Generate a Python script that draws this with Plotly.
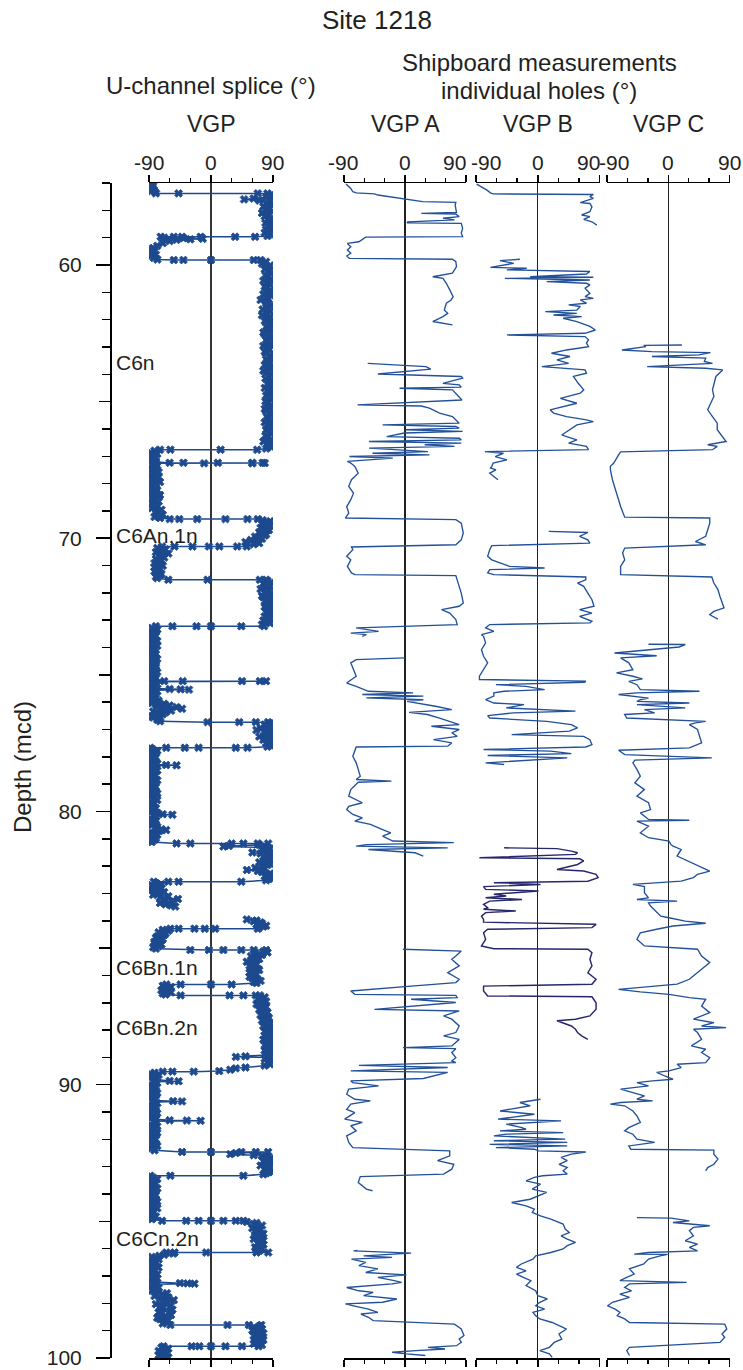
import plotly.graph_objects as go

# ---------------- data (depth in mcd, VGP latitude in degrees) ----------------
UCH = [
 (57.02,-86),(57.06,-89),(57.10,-84),(57.14,-88),(57.18,-85),(57.22,-89),(57.26,-83),(57.30,-87),(57.34,-81),
 (57.38,-80),(57.38,-47),(57.38,68),(57.38,82),
 (57.42,88),(57.47,84),(57.52,80),(57.57,62),(57.60,48),(57.64,70),(57.68,86),(57.74,80),(57.80,88),(57.86,76),
 (57.92,85),(57.98,80),(58.04,89),(58.10,74),(58.16,84),(58.22,78),(58.28,88),(58.34,82),(58.40,86),(58.46,79),
 (58.52,88),(58.58,83),(58.64,87),(58.70,80),(58.76,85),(58.82,78),(58.88,86),(58.94,82),
 (58.97,64),(58.97,35),(58.97,-15),(58.97,-42),(58.97,-54),(58.97,-73),
 (59.00,-68),(59.02,-40),(59.04,-12),(59.06,-30),(59.08,-50),(59.12,-60),(59.20,-70),(59.30,-78),(59.38,-84),
 (59.44,-88),(59.50,-82),(59.56,-86),(59.62,-80),(59.68,-88),(59.74,-83),(59.80,-78),
 (59.82,-54),(59.82,-40),(59.82,0),(59.82,62),(59.82,72),
 (59.88,80),(59.95,74),(60.02,86),(60.09,82),(60.16,78),(60.23,84),(60.30,88),(60.37,79),(60.44,82),(60.51,88),
 (60.58,76),(60.65,83),(60.72,86),(60.79,78),(60.86,80),(60.93,87),(61.00,84),(61.07,76),(61.14,88),(61.21,82),
 (61.28,72),(61.35,80),(61.42,84),(61.49,88),(61.56,80),(61.63,75),(61.70,86),(61.77,81),(61.84,74),(61.91,86),
 (61.98,82),(62.05,78),(62.12,88),(62.19,84),(62.26,80),(62.33,86),(62.40,84),(62.47,76),(62.54,78),(62.61,88),
 (62.68,86),(62.75,80),(62.82,82),(62.89,87),(62.96,76),(63.03,82),(63.10,85),(63.17,78),(63.24,80),(63.31,86),
 (63.38,88),(63.45,80),(63.52,82),(63.59,86),(63.66,78),(63.73,84),(63.80,86),(63.87,76),(63.94,80),(64.01,88),
 (64.08,84),(64.15,79),(64.22,88),(64.29,84),(64.36,82),(64.43,87),(64.50,78),(64.57,83),(64.64,85),(64.71,88),
 (64.78,80),(64.85,84),(64.92,87),(64.99,79),(65.06,82),(65.13,88),(65.20,84),(65.27,78),(65.34,80),(65.41,86),
 (65.48,88),(65.55,81),(65.62,83),(65.69,87),(65.76,78),(65.83,82),(65.90,85),(65.97,88),(66.04,80),(66.11,84),
 (66.18,88),(66.25,79),(66.32,82),(66.39,87),(66.46,76),(66.53,82),(66.60,85),(66.67,88),(66.72,80),
 (66.76,67),(66.76,14),(66.76,-59),(66.76,-74),
 (66.80,-82),(66.86,-88),(66.92,-78),(66.98,-86),(67.04,-80),(67.10,-89),(67.16,-84),(67.21,-80),
 (67.24,-60),(67.24,-40),(67.24,10),(67.24,60),(67.24,75),(67.25,78),(67.26,60),(67.26,-10),(67.26,-80),
 (67.30,-86),(67.35,-78),(67.40,-80),(67.46,-86),(67.52,-88),(67.58,-76),(67.64,-82),(67.70,-88),(67.76,-76),
 (67.82,-86),(67.88,-84),(67.94,-74),(68.00,-80),(68.06,-86),(68.12,-88),(68.18,-80),(68.24,-78),(68.30,-88),
 (68.36,-84),(68.42,-74),(68.48,-76),(68.54,-86),(68.60,-82),(68.66,-76),(68.72,-86),(68.78,-82),(68.84,-78),
 (68.90,-86),(68.96,-72),(69.02,-80),(69.08,-80),(69.14,-70),(69.18,-76),(69.22,-82),(69.26,-74),
 (69.30,-60),(69.30,-46),(69.30,-20),(69.30,21),(69.30,53),(69.30,68),
 (69.34,75),(69.38,86),(69.42,82),(69.46,74),(69.50,78),(69.54,86),(69.58,84),(69.62,72),(69.66,76),(69.70,84),
 (69.74,80),(69.78,70),(69.82,72),(69.86,80),(69.90,78),(69.94,64),(69.98,68),(70.02,74),(70.06,58),(70.10,66),
 (70.14,50),(70.18,70),(70.22,62),
 (70.30,52),(70.30,38),(70.30,12),(70.30,-3),(70.30,-27),(70.30,-53),(70.30,-71),
 (70.36,-78),(70.41,-66),(70.46,-70),(70.51,-80),(70.56,-62),(70.61,-72),(70.66,-76),(70.71,-68),(70.76,-80),
 (70.81,-72),(70.86,-74),(70.91,-82),(70.96,-78),(71.01,-70),(71.06,-82),(71.11,-74),(71.16,-76),(71.21,-82),
 (71.26,-80),(71.31,-72),(71.36,-74),(71.41,-80),(71.46,-78),
 (71.52,-62),(71.52,-5),(71.52,71),(71.52,80),
 (71.56,82),(71.61,88),(71.66,76),(71.71,82),(71.76,86),(71.81,78),(71.86,72),(71.91,84),(71.96,80),(72.01,88),
 (72.06,84),(72.11,74),(72.16,76),(72.21,86),(72.26,88),(72.31,78),(72.36,82),(72.41,88),(72.46,86),(72.51,78),
 (72.56,80),(72.61,86),(72.66,88),(72.71,80),(72.76,84),(72.81,88),(72.86,78),(72.91,84),(72.96,86),(73.01,76),
 (73.06,80),(73.11,86),(73.16,74),
 (73.22,77),(73.22,44),(73.22,0),(73.22,-21),(73.22,-56),(73.22,-80),
 (73.28,-86),(73.34,-78),(73.40,-80),(73.46,-88),(73.52,-88),(73.58,-80),(73.64,-84),(73.70,-88),(73.76,-78),
 (73.82,-84),(73.88,-86),(73.94,-78),(74.00,-82),(74.06,-88),(74.12,-88),(74.18,-82),(74.24,-80),(74.30,-88),
 (74.36,-85),(74.42,-78),(74.48,-82),(74.54,-88),(74.60,-88),(74.66,-80),(74.72,-80),(74.78,-88),(74.84,-86),
 (74.90,-78),(74.96,-82),(75.02,-88),(75.08,-88),(75.13,-80),(75.18,-84),
 (75.23,-68),(75.23,-41),(75.23,45),(75.23,71),(75.23,80),(75.25,-80),
 (75.30,-86),(75.35,-78),(75.40,-82),(75.45,-88),(75.50,-84),(75.52,-60),(75.53,-44),(75.54,-32),(75.56,-84),
 (75.61,-78),(75.66,-88),(75.72,-80),(75.78,-82),(75.84,-88),(75.90,-86),(75.95,-76),(76.00,-78),(76.03,-86),
 (76.06,-68),(76.09,-80),(76.12,-60),(76.15,-78),(76.18,-50),(76.21,-72),(76.24,-42),(76.28,-72),(76.31,-58),
 (76.34,-84),(76.37,-66),(76.40,-80),(76.44,-70),(76.48,-76),(76.52,-86),(76.56,-84),(76.60,-74),(76.64,-78),
 (76.70,-74),
 (76.73,-5),(76.73,41),(76.73,65),(76.73,83),
 (76.78,86),(76.82,78),(76.86,80),(76.90,88),(76.94,72),(76.98,80),(77.02,66),(77.06,84),(77.10,78),(77.14,86),
 (77.18,88),(77.22,78),(77.26,70),(77.30,86),(77.34,84),(77.38,76),(77.42,88),(77.46,84),(77.50,80),(77.54,88),
 (77.58,86),(77.63,82),
 (77.67,53),(77.67,36),(77.67,-18),(77.67,-38),(77.67,-65),(77.67,-88),
 (77.72,-85),(77.78,-78),(77.84,-80),(77.90,-86),(77.96,-88),(78.02,-80),(78.08,-82),(78.14,-88),(78.20,-86),
 (78.24,-78),(78.28,-80),(78.30,-65),(78.31,-50),(78.33,-82),(78.38,-86),(78.44,-88),(78.50,-78),(78.56,-84),
 (78.62,-88),(78.68,-80),(78.74,-84),(78.80,-86),(78.86,-78),(78.92,-82),(78.98,-88),(79.04,-88),(79.10,-80),
 (79.16,-84),(79.22,-88),(79.28,-80),(79.34,-78),(79.40,-86),(79.46,-88),(79.52,-82),(79.58,-78),(79.64,-88),
 (79.70,-82),(79.76,-84),(79.82,-88),(79.88,-80),(79.94,-84),(80.00,-86),(80.05,-78),
 (80.10,-70),(80.12,-56),(80.14,-84),(80.20,-80),(80.26,-88),(80.32,-80),(80.38,-82),(80.44,-88),(80.50,-86),
 (80.56,-78),(80.62,-80),(80.65,-72),(80.68,-65),(80.72,-75),(80.76,-88),(80.80,-84),(80.86,-78),(80.92,-88),
 (80.98,-80),(81.04,-82),(81.08,-88),(81.12,-86),
 (81.17,-50),(81.17,-30),(81.17,30),(81.17,47),(81.17,68),(81.17,83),
 (81.22,70),(81.26,26),(81.28,18),(81.32,80),(81.36,86),(81.40,74),(81.45,82),(81.50,60),(81.54,72),(81.58,84),
 (81.62,88),(81.66,76),(81.71,82),(81.76,86),(81.81,78),(81.86,70),(81.91,86),(81.96,82),(82.01,74),(82.06,64),
 (82.10,78),(82.14,52),(82.18,68),(82.22,74),(82.27,86),(82.32,84),(82.37,78),(82.42,88),(82.47,84),(82.52,80),
 (82.57,44),(82.57,-47),(82.57,-62),(82.57,-83),
 (82.62,-80),(82.66,-72),(82.70,-86),(82.75,-80),(82.80,-72),(82.85,-88),(82.90,-84),(82.95,-68),(83.00,-76),
 (83.05,-84),(83.10,-62),(83.15,-74),(83.20,-48),(83.25,-66),(83.30,-56),(83.35,-74),(83.40,-66),(83.44,-58),
 (83.48,-52),
 None,
 (83.95,52),(83.99,66),(84.02,62),(84.06,72),(84.10,74),(84.14,66),(84.18,80),(84.21,76),(84.24,70),
 (84.29,68),(84.29,6),(84.29,-9),(84.29,-24),(84.29,-47),(84.29,-59),
 (84.33,-70),(84.37,-62),(84.42,-76),(84.47,-66),(84.52,-68),(84.57,-78),(84.62,-80),(84.67,-70),(84.72,-74),
 (84.77,-82),(84.82,-82),(84.87,-72),(84.92,-76),(84.97,-84),(85.02,-80),
 (85.07,-30),(85.07,-3),(85.07,18),(85.07,44),(85.07,62),(85.07,80),
 (85.12,76),(85.16,82),(85.20,64),(85.25,74),(85.30,58),(85.35,66),(85.40,70),(85.45,60),(85.50,52),(85.55,62),
 (85.60,66),(85.65,56),(85.70,58),(85.75,68),(85.80,70),(85.85,60),(85.90,56),(85.95,66),(86.00,64),(86.05,56),
 (86.10,60),(86.15,68),(86.20,72),(86.24,62),(86.28,66),
 (86.33,30),(86.33,0),(86.33,-44),(86.33,-65),
 (86.38,-70),(86.42,-58),(86.46,-62),(86.50,-70),(86.54,-72),(86.58,-64),(86.62,-58),(86.66,-70),(86.70,-66),
 (86.73,-44),(86.73,27),(86.73,47),(86.73,65),(86.73,71),
 (86.80,78),(86.85,68),(86.90,72),(86.95,80),(87.00,76),(87.05,66),(87.10,70),(87.15,80),(87.20,78),(87.25,70),
 (87.30,74),(87.35,82),(87.40,80),(87.45,72),(87.50,76),(87.55,84),(87.60,82),(87.65,74),(87.70,78),(87.75,86),
 (87.80,84),(87.85,76),(87.90,80),(87.95,88),(88.00,86),(88.05,78),(88.10,82),(88.15,88),(88.20,78),(88.25,86),
 (88.30,84),(88.35,76),(88.40,80),(88.45,88),(88.50,86),(88.55,78),(88.60,82),(88.65,88),(88.70,86),(88.75,78),
 (88.80,80),(88.85,88),(88.90,84),(88.96,50),(88.98,36),(89.00,84),(89.05,78),(89.10,88),(89.15,84),(89.20,82),
 (89.25,86),(89.30,78),
 (89.37,50),(89.40,36),(89.45,28),(89.50,12),(89.52,-25),(89.52,-56),(89.52,-70),
 (89.56,-82),(89.60,-88),(89.64,-76),(89.68,-84),(89.72,-88),(89.76,-78),(89.80,-82),(89.86,-60),(89.87,-47),
 (89.89,-84),(89.94,-78),(90.00,-88),(90.06,-80),(90.12,-82),(90.18,-88),(90.24,-86),(90.30,-78),(90.36,-80),
 (90.42,-86),(90.48,-88),(90.54,-80),(90.58,-84),(90.60,-55),(90.61,-42),(90.63,-84),(90.68,-78),(90.74,-88),
 (90.80,-80),(90.86,-82),(90.92,-88),(90.98,-86),(91.04,-78),(91.10,-80),(91.16,-86),(91.22,-88),(91.26,-80),
 (91.30,-60),(91.31,-35),(91.32,-15),(91.34,-84),(91.40,-80),(91.46,-88),(91.52,-78),(91.58,-82),(91.64,-88),
 (91.70,-86),(91.76,-78),(91.82,-80),(91.88,-86),(91.94,-88),(92.00,-80),(92.06,-84),(92.12,-88),(92.18,-80),
 (92.24,-78),(92.30,-86),(92.35,-88),(92.40,-82),
 (92.46,-42),(92.46,0),(92.46,44),(92.46,65),(92.46,83),
 (92.50,36),(92.54,28),(92.58,62),(92.61,74),(92.64,80),(92.68,88),(92.72,86),(92.76,80),(92.80,76),(92.84,88),
 (92.88,84),(92.92,78),(92.96,72),(93.00,84),(93.04,86),(93.08,78),(93.12,80),(93.16,88),(93.20,84),(93.24,80),
 (93.28,76),
 (93.33,47),(93.33,-59),(93.33,-88),
 (93.40,-84),(93.45,-78),(93.50,-88),(93.56,-84),(93.62,-80),(93.68,-88),(93.74,-86),(93.80,-78),(93.86,-82),
 (93.92,-88),(93.98,-88),(94.04,-80),(94.10,-84),(94.16,-88),(94.22,-80),(94.28,-78),(94.34,-86),(94.40,-88),
 (94.46,-82),(94.52,-78),(94.58,-88),(94.64,-84),(94.70,-84),(94.76,-88),(94.82,-80),(94.87,-84),(94.92,-86),
 (94.98,-71),(94.98,-36),(94.98,-18),(94.98,0),(94.98,18),(94.98,36),(94.98,47),
 (95.02,52),(95.06,66),(95.10,62),(95.15,74),(95.20,68),(95.25,60),(95.30,72),(95.35,64),(95.40,66),(95.45,76),
 (95.50,74),(95.55,64),(95.60,70),(95.65,62),(95.70,76),(95.75,70),(95.80,68),(95.85,76),(95.90,72),(95.95,64),
 (96.00,74),(96.04,66),(96.08,70),
 (96.14,83),(96.14,66),(96.14,-7),(96.14,-53),(96.14,-65),
 (96.18,-55),(96.22,-68),(96.26,-75),(96.30,-86),(96.34,-82),(96.39,-76),(96.44,-88),(96.49,-80),(96.54,-84),
 (96.59,-88),(96.64,-80),(96.69,-76),(96.74,-88),(96.79,-82),(96.84,-84),(96.89,-88),(96.94,-78),(96.99,-82),
 (97.04,-86),(97.09,-78),(97.14,-82),(97.18,-88),(97.22,-80),(97.26,-45),(97.27,-34),(97.28,-24),(97.30,-84),
 (97.34,-80),(97.38,-88),(97.43,-76),(97.48,-82),(97.53,-86),(97.58,-76),(97.63,-64),(97.68,-70),(97.73,-82),
 (97.78,-62),(97.83,-74),(97.88,-54),(97.93,-70),(97.98,-64),(98.03,-80),(98.08,-58),(98.13,-74),(98.18,-70),
 (98.23,-56),(98.28,-60),(98.33,-76),(98.38,-72),(98.43,-58),(98.48,-66),(98.53,-78),(98.58,-74),(98.63,-62),
 (98.68,-68),(98.74,-70),
 (98.79,-59),(98.79,24),(98.79,55),(98.79,73),
 (98.84,70),(98.89,62),(98.94,74),(98.99,60),(99.04,66),(99.09,76),(99.14,72),(99.19,62),(99.24,68),(99.29,74),
 (99.34,76),(99.39,64),(99.44,70),(99.48,62),(99.52,74),
 (99.57,69),(99.57,45),(99.57,21),(99.57,0),(99.57,-17),(99.57,-28),(99.57,-69),
 (99.62,-72),(99.66,-62),(99.70,-66),(99.74,-76),(99.78,-74),(99.82,-64),(99.86,-68),(99.90,-76),(99.94,-72),
 (99.97,-62),(100.00,-65),
]

VGP_A = [
 (57.04,-87),(57.20,-80),(57.32,-77),(57.36,-72),(57.40,-45),(57.44,-40),(57.68,26),(57.71,75),(57.81,74),
 (58.08,76),(58.11,24),(58.14,75),(58.23,80),(58.29,56),(58.35,73),(58.42,4),(58.46,3),(58.48,83),(58.66,85),
 (58.84,83),(58.96,85),(58.98,-58),(59.15,-68),(59.21,-85),(59.33,-80),(59.45,-85),(59.57,-80),(59.67,-86),
 (59.76,-82),(59.79,70),(59.88,75),(60.06,76),(60.30,70),(60.43,41),(60.49,56),(60.67,61),(60.91,66),(61.16,71),
 (61.28,68),(61.40,61),(61.65,58),(61.77,63),(61.89,56),(62.07,41),(62.19,70),
 None,
 (63.60,-55),(63.72,31),(63.81,38),(63.99,-40),(64.08,83),(64.14,85),(64.33,56),(64.39,80),(64.47,83),(64.51,-8),
 (64.57,70),(64.69,75),(64.94,84),(65.12,-70),(65.16,24),(65.24,36),(65.42,51),(65.55,70),(65.67,75),(65.79,80),
 (65.85,-33),(65.91,75),(65.97,80),(66.03,1),(66.09,85),(66.15,-1),(66.28,-27),(66.34,80),(66.40,83),(66.46,-53),
 (66.52,83),(66.58,29),(66.64,73),(66.70,-53),(66.83,34),(66.89,-48),(66.95,36),(67.01,-82),(67.07,-18),
 (67.13,-48),(67.19,-85),(67.25,-80),(67.37,-74),(67.62,-69),(67.86,-79),(68.10,-83),(68.35,-76),(68.59,-80),
 (68.84,-86),(69.08,-83),(69.26,-88),(69.32,75),(69.45,83),(69.81,86),(70.06,83),(70.24,75),(70.32,-79),
 (70.42,-77),(70.66,-86),(70.79,-80),(71.03,-85),(71.27,-79),(71.33,-74),(71.37,75),(71.52,77),(71.76,80),
 (72.01,83),(72.37,86),(72.49,80),(72.61,54),(72.74,66),(72.98,75),(73.16,77),(73.28,-72),(73.41,-39),
 (73.47,-80),(73.53,-57),(73.59,-63),
 None,
 (74.38,0),(74.44,-72),(74.56,-80),(74.81,-76),(75.05,-72),(75.24,-83),(75.30,-86),(75.42,-72),(75.60,-54),
 (75.66,12),(75.72,-63),(75.78,27),(75.84,-57),(75.91,27),(75.97,3),(76.15,45),(76.27,69),(76.37,6),(76.45,33),
 (76.58,51),(76.70,66),(76.82,80),(76.88,39),(77.00,80),(77.12,69),(77.25,77),(77.37,42),(77.49,69),(77.61,63),
 (77.64,-72),(77.98,-77),(78.22,-72),(78.46,-69),(78.71,-66),(78.83,-72),(78.89,-20),(78.93,-69),(79.20,-80),
 (79.44,-83),(79.68,-63),(79.81,-83),(79.93,-86),(80.11,-77),(80.23,-63),(80.35,-74),(80.47,-51),(80.66,-33),
 (80.78,-21),(80.90,-33),(81.08,-18),(81.14,72),(81.21,-57),(81.27,-72),(81.33,63),(81.39,-54),(81.51,15),
 (81.63,27),
 None,
 (85.04,-3),(85.11,83),(85.29,75),(85.41,69),(85.65,80),(85.90,63),(86.14,80),(86.26,75),(86.39,9),(86.57,-80),
 (86.69,-74),(86.73,75),(86.81,77),(86.87,9),(86.99,75),(87.24,-45),(87.30,80),(87.48,57),(87.60,69),(87.85,80),
 (88.09,75),(88.21,57),(88.34,80),(88.58,69),(88.64,-3),(88.68,75),(88.82,69),(89.01,75),(89.13,69),(89.19,75),
 (89.29,-68),(89.37,63),(89.49,-80),(89.55,63),(89.77,27),(89.86,-80),(89.92,-77),(90.04,-39),(90.16,-83),
 (90.35,-86),(90.53,-74),(90.59,-51),(90.71,-80),(90.90,-86),(91.02,-74),(91.26,-89),(91.38,-63),(91.50,-80),
 (91.69,-72),(91.87,-86),(92.11,-83),(92.30,-77),(92.42,66),(92.60,66),(92.78,48),(92.91,72),(93.09,69),
 (93.27,57),(93.36,-66),(93.58,-69),(93.82,-57),(93.88,-48),
 None,
 (96.06,-70),(96.08,-76),(96.16,9),(96.26,-61),(96.32,-19),(96.38,-79),(96.50,-58),(96.62,-68),(96.74,-40),
 (96.87,-58),(96.96,2),(97.05,-40),(97.17,-16),(97.23,-5),(97.29,-19),(97.42,-86),(97.54,-68),(97.60,-47),
 (97.72,-61),(97.84,-12),(97.96,-33),(98.02,-88),(98.09,-76),(98.21,-54),(98.33,-40),(98.39,-65),(98.51,-54),
 (98.63,-47),(98.76,73),(98.94,83),(99.18,87),(99.30,80),(99.43,83),(99.55,76),(99.61,34),(99.67,59),(99.73,16),
 (99.79,-19),(99.85,2),(99.91,30),
]

VGP_B = [
 (57.04,-89),(57.14,-82),(57.26,-74),(57.36,-69),(57.40,-65),(57.42,81),(57.50,76),(57.56,81),(57.72,62),
 (57.75,76),(57.87,79),(58.05,76),(58.17,64),(58.23,76),(58.33,67),(58.42,79),(58.54,86),
 None,
 (59.79,-26),(59.84,-55),(59.94,-35),(60.00,-50),(60.09,-69),(60.12,-16),(60.18,-45),(60.24,76),(60.33,71),
 (60.43,-11),(60.45,81),(60.49,-48),(60.55,76),(60.61,13),(60.67,71),(60.73,76),(60.85,69),(60.91,71),(61.04,76),
 (61.16,69),(61.22,81),(61.28,62),(61.40,71),(61.46,45),(61.52,62),(61.65,57),(61.71,11),(61.77,57),(61.83,23),
 (61.89,64),(61.95,37),(62.07,57),(62.19,69),(62.25,76),(62.38,84),(62.50,69),(62.56,-45),(62.62,69),(62.74,74),
 (62.86,71),(62.99,74),(63.11,42),(63.23,20),(63.35,47),(63.47,28),(63.60,45),(63.72,6),(63.84,69),(63.96,71),
 (64.08,52),(64.33,59),(64.57,67),(64.69,62),(64.88,33),(65.06,57),(65.30,18),(65.42,23),(65.55,42),(65.67,71),
 (65.73,81),(65.85,57),(66.03,47),(66.22,35),(66.28,42),(66.40,57),(66.52,45),(66.64,71),(66.76,74),(66.83,-77),
 (66.89,-50),(67.01,-62),(67.13,-45),(67.25,-65),(67.37,-67),(67.43,-69),(67.50,-61),(67.62,-70),(67.74,-64),
 (67.86,-58),
 None,
 (69.75,16),(69.79,73),(69.93,61),(70.06,73),(70.18,76),(70.27,-67),(70.42,-70),(70.66,-73),(70.79,-67),
 (71.03,-41),(71.09,10),(71.15,-70),(71.27,-73),(71.33,-64),(71.42,70),(71.52,70),(71.64,58),(71.76,67),
 (72.01,73),(72.25,79),(72.49,82),(72.61,61),(72.74,79),(72.86,61),(73.04,79),(73.10,76),(73.16,-70),(73.28,-76),
 (73.41,-64),(73.53,-82),(73.59,-79),(73.83,-76),(74.08,-82),(74.32,-79),(74.56,-73),(74.81,-79),(75.05,-85),
 (75.17,-85),(75.23,70),(75.27,68),(75.36,-61),(75.42,-17),(75.54,10),(75.60,-49),(75.66,-64),(75.78,-64),
 (75.91,-76),(76.03,-64),(76.09,-20),(76.21,-46),(76.33,55),(76.39,-35),(76.49,-73),(76.58,-70),(76.70,13),
 (76.82,49),(76.94,58),(77.06,46),(77.19,-38),(77.25,67),(77.37,76),(77.55,79),(77.64,70),(77.73,-79),(77.79,19),
 (77.88,49),(77.95,-73),(78.04,43),(78.16,-41),(78.22,-76),(78.28,-49),
 None,
 (90.53,4),(90.65,-26),(90.77,-11),(90.96,-55),(91.08,-5),(91.26,-58),(91.32,34),(91.44,-46),(91.57,-23),
 (91.63,-17),(91.69,-55),(91.75,37),(91.81,-46),(91.87,-64),(91.99,40),(92.05,-64),(92.11,43),(92.18,-70),
 (92.24,43),(92.30,-61),(92.36,-5),(92.42,1),(92.46,70),(92.54,49),(92.66,34),(92.78,43),(92.91,31),(93.03,43),
 (93.15,37),(93.27,43),(93.33,7),(93.39,-5),(93.52,-17),(93.64,4),(93.82,-8),(93.94,13),(94.19,-11),(94.31,-38),
 (94.43,-17),(94.55,-5),(94.67,-8),(94.80,4),(94.92,19),(95.10,37),(95.28,40),(95.41,46),(95.53,34),(95.65,43),
 (95.77,55),(95.89,43),(96.01,37),(96.14,19),(96.26,-3),(96.38,-7),(96.56,-24),(96.68,-31),(96.81,-17),
 (96.93,-31),(97.05,-21),(97.17,-10),(97.35,-17),(97.54,-3),(97.72,0),(97.84,14),(97.96,3),(98.09,-3),(98.21,10),
 (98.33,-7),(98.45,-3),(98.57,3),(98.70,21),(98.94,42),(99.12,31),(99.31,35),(99.43,24),(99.61,17),(99.73,3),
 (99.85,17),(99.98,21),
]

VGP_B_DARK = [
 (81.33,-49),(81.36,28),(81.45,49),(81.51,58),(81.57,55),(81.69,-85),(81.73,61),(81.81,67),(81.94,58),(82.12,28),
 (82.18,67),(82.30,85),(82.42,88),(82.55,73),(82.61,-64),(82.67,4),(82.75,-79),(82.85,-76),(82.91,1),(83.03,-64),
 (83.09,-46),(83.16,-76),(83.22,-23),(83.28,-70),(83.40,-79),(83.52,-73),(83.58,-79),(83.64,-32),(83.70,-76),
 (83.83,-82),(83.95,-79),(84.05,-79),(84.13,85),(84.25,79),(84.31,-73),(84.44,-79),(84.68,-76),(84.92,-82),
 (85.02,-64),(85.04,73),(85.17,79),(85.41,76),(85.65,79),(85.90,73),(86.14,85),(86.32,79),(86.39,-79),(86.57,-79),
 (86.75,-73),(86.78,79),(87.00,85),(87.24,85),(87.48,76),(87.60,55),(87.66,28),(87.85,49),(87.97,55),(88.09,58),
 (88.21,64),(88.34,73),
]

VGP_C = [
 (62.93,20),(62.94,-36),(62.99,-33),(63.11,-68),(63.17,-24),(63.21,62),(63.29,45),(63.35,-24),(63.41,55),
 (63.53,53),(63.60,65),(63.72,-31),(63.78,55),(63.84,80),(64.08,70),(64.33,67),(64.57,65),(64.81,67),(65.06,62),
 (65.30,58),(65.55,65),(65.79,72),(66.03,72),(66.28,80),(66.46,85),(66.58,58),(66.64,72),(66.76,65),(66.84,-70),
 (66.95,-73),(67.13,-78),(67.25,-80),(67.37,-85),(67.50,-85),(67.86,-82),(68.10,-79),(68.35,-75),(68.59,-73),
 (68.84,-70),(69.08,-67),(69.23,-64),(69.26,61),(69.45,61),(69.69,58),(69.93,55),(70.12,40),(70.24,55),
 (70.36,-64),(70.54,-67),(70.79,-64),(71.03,-70),(71.33,-70),(71.42,64),(71.64,67),(71.88,73),(72.13,76),
 (72.37,79),(72.55,82),(72.68,67),(72.80,61),(72.96,73),
 None,
 (73.88,-29),(73.89,25),(73.98,16),(74.20,-79),(74.30,-17),(74.38,-70),(74.56,-58),(74.81,-52),(74.93,-76),
 (75.05,-52),(75.15,-38),(75.24,-58),(75.36,-46),(75.54,-41),(75.60,46),(75.66,-46),(75.72,-73),(75.85,-29),
 (75.91,-41),(75.97,-46),(76.03,31),(76.09,-46),(76.21,25),(76.27,-35),(76.39,-20),(76.45,-64),(76.58,-61),
 (76.70,55),(76.76,40),(76.82,31),(77.00,43),(77.25,46),(77.49,49),(77.67,31),(77.76,-73),(77.92,-64),(78.04,64),
 (78.12,-49),(78.22,-52),(78.46,-46),(78.71,-41),(78.95,-49),(79.20,-35),(79.44,-46),(79.68,-29),(79.93,-26),
 (80.05,-41),(80.29,-29),(80.32,31),(80.35,-46),(80.54,-29),(80.78,-41),(80.96,-29),(81.08,1),(81.21,4),(81.27,7),
 (81.39,19),(81.63,13),(81.88,34),(82.12,55),(82.18,61),(82.30,43),(82.42,37),(82.55,19),(82.67,-52),(82.75,-35),
 (82.97,-35),(83.16,-29),(83.22,-46),(83.28,13),(83.34,-29),(83.46,-26),(83.70,-17),(83.83,-11),(83.89,1),
 (84.01,25),(84.09,55),(84.19,7),(84.31,-17),(84.44,-41),(84.68,-46),(84.92,-35),(85.04,43),(85.29,49),(85.53,61),
 (85.65,55),(85.90,43),(86.14,31),(86.32,13),(86.45,-52),(86.51,-73),(86.60,-41),(86.69,1),(86.81,31),(86.87,55),
 (87.12,49),(87.36,61),(87.60,37),(87.73,67),(87.85,49),(87.91,85),(87.97,37),(88.09,43),(88.34,49),(88.58,34),
 (88.70,55),(88.82,49),(89.01,61),(89.19,55),(89.25,13),(89.37,19),(89.49,1),(89.55,-17),(89.68,-5),(89.80,7),
 (89.86,-23),(89.92,-46),(90.04,-29),(90.16,-70),(90.29,-52),(90.41,-35),(90.53,-46),(90.59,-23),(90.65,-70),
 (90.71,-85),(90.77,-64),(90.96,-52),(91.14,-46),(91.38,-41),(91.57,-58),(91.69,-64),(91.81,-52),(91.99,-46),
 (92.11,-20),(92.24,-58),(92.36,-55),(92.39,67),(92.54,67),(92.72,73),(92.91,67),(93.03,58),(93.15,55),
 None,
 (94.86,-46),(94.88,4),(94.98,31),(95.04,7),(95.16,61),(95.22,37),(95.34,31),(95.53,37),(95.71,25),(95.83,43),
 (95.95,31),(96.08,43),(96.14,-29),(96.20,-50),(96.21,-1),(96.26,-12),(96.38,-29),(96.56,-36),(96.74,-57),
 (96.93,-50),(97.05,-61),(97.17,-71),(97.23,27),(97.29,-57),(97.42,-64),(97.54,-54),(97.66,-71),(97.78,-57),
 (97.96,-82),(98.09,-89),(98.21,-78),(98.33,-71),(98.45,-75),(98.57,-64),(98.70,-57),(98.76,83),(98.94,86),
 (99.12,79),(99.24,83),(99.43,76),(99.61,-57),(99.73,-61),(99.91,-57),
]

CHRONS = [("C6n", 63.57), ("C6An.1n", 69.9), ("C6Bn.1n", 85.7), ("C6Bn.2n", 87.9), ("C6Cn.2n", 95.62)]
DEPTH_TICKS = [60, 70, 80, 90, 100]
MID_TICKS = [65, 75, 85, 95]
VGP_TICKS = [-90, 0, 90]
VGP_MINOR = [-60, -30, 30, 60]
PANEL_TITLES = ["VGP", "VGP A", "VGP B", "VGP C"]

# ---------------- figure ----------------
W, H = 743, 1370
FONT = "Liberation Sans, Arial, Helvetica, sans-serif"
TXT = "#231f20"
LINE = "#22519a"
MARK = "#1d4a8e"
DARK = "#27276b"

def split(pairs):
    d, v = [], []
    for p in pairs:
        if p is None:
            d.append(None); v.append(None)
        else:
            d.append(p[0]); v.append(p[1])
    return d, v

def px_x(p):
    return p / W

def px_y(p):
    return 1 - p / H

ytop, ybot = px_y(183), px_y(1358)
doms = [(149, 273), (344, 466), (476, 599.5), (607, 729.5)]
label_shift = [(0, 0, -1), (-1, 0, -12), (10, 0, -11), (7, 0, 0)]

fig = go.Figure()

d, v = split(UCH)
fig.add_trace(go.Scatter(x=v, y=d, mode="lines+markers", xaxis="x", yaxis="y",
                         line=dict(color=MARK, width=1.5),
                         marker=dict(symbol="x", size=7, color=MARK, line=dict(width=0.8, color=MARK)),
                         connectgaps=False, showlegend=False))
for ax, series in (("x2", VGP_A), ("x3", VGP_B), ("x4", VGP_C)):
    d, v = split(series)
    fig.add_trace(go.Scatter(x=v, y=d, mode="lines", xaxis=ax, yaxis="y",
                             line=dict(color=LINE, width=1.35), connectgaps=False, showlegend=False))
d, v = split(VGP_B_DARK)
fig.add_trace(go.Scatter(x=v, y=d, mode="lines", xaxis="x3", yaxis="y",
                         line=dict(color=DARK, width=1.45), showlegend=False))
fig.add_trace(go.Scatter(x=[None], y=[None], xaxis="x", yaxis="y2", mode="markers", showlegend=False,
                         hoverinfo="skip"))

layout = dict(width=W, height=H, autosize=False,
              margin=dict(l=0, r=0, t=0, b=0, pad=0, autoexpand=False),
              plot_bgcolor="white", paper_bgcolor="white",
              font=dict(family=FONT, size=21, color=TXT), showlegend=False)

for i, (a, b) in enumerate(doms):
    key = "xaxis" if i == 0 else f"xaxis{i+1}"
    layout[key] = dict(domain=[px_x(a), px_x(b)], range=[-90, 90], side="top", anchor="y",
                       tickvals=VGP_TICKS, showticklabels=False,
                       ticks="outside", ticklen=7, tickwidth=1.5, tickcolor="black",
                       minor=dict(tickvals=VGP_MINOR, ticks="outside", ticklen=4, tickwidth=1.5, tickcolor="black"),
                       showline=True, linecolor="black", linewidth=1.5, mirror="ticks",
                       zeroline=True, zerolinecolor="#222" if i else "#333", zerolinewidth=1.4,
                       showgrid=False, automargin=False, fixedrange=True)

layout["yaxis"] = dict(domain=[ybot, ytop], range=[100, 57], anchor="free", position=px_x(110),
                       side="left", tickvals=DEPTH_TICKS, ticktext=[str(t) for t in DEPTH_TICKS],
                       ticks="outside", ticklen=14, tickwidth=1.5, tickcolor="black",
                       minor=dict(dtick=1, tick0=0, ticks="outside", ticklen=8, tickwidth=1.5, tickcolor="black"),
                       showline=True, linecolor="black", linewidth=1.5, showgrid=False, zeroline=False,
                       tickfont=dict(size=21, color=TXT), ticklabelstandoff=10, automargin=False,
                       fixedrange=True)
layout["yaxis2"] = dict(domain=[ybot, ytop], range=[100, 57], overlaying="y", anchor="free",
                        position=px_x(110), side="left", tickvals=MID_TICKS, ticks="outside", ticklen=11,
                        tickwidth=1.5, tickcolor="black", showticklabels=False, showline=False,
                        showgrid=False, zeroline=False, automargin=False, fixedrange=True)

ann = []
def txt(t, xp, yp, size, **kw):
    ann.append(dict(text=t, x=px_x(xp), y=px_y(yp), xref="paper", yref="paper", showarrow=False,
                    font=dict(size=size, color=TXT), xanchor="center", yanchor="middle", **kw))

txt("Site 1218", 377, 20, 26)
txt("U-channel splice (°)", 211, 86, 24)
txt("Shipboard measurements", 539, 63, 24)
txt("individual holes (°)", 539, 90, 24)
for (a, b), t in zip(doms, PANEL_TITLES):
    txt(t, (a + b) / 2, 124, 23)
txt("Depth (mcd)", 22, 767, 24, textangle=-90)

for i, shifts in enumerate(label_shift):
    axref = "x" if i == 0 else f"x{i+1}"
    for tv, sh in zip(VGP_TICKS, shifts):
        ann.append(dict(text=str(tv), x=tv, y=px_y(163), xref=axref, yref="paper", xshift=sh,
                        showarrow=False, font=dict(size=21, color=TXT), xanchor="center", yanchor="middle"))

for name, dep in CHRONS:
    ann.append(dict(text=name, x=px_x(114), y=dep, xref="paper", yref="y", showarrow=False,
                    font=dict(size=21, color=TXT), xanchor="left", yanchor="middle"))
layout["annotations"] = ann

fig.update_layout(**layout)
fig.write_html("out.html", config={"displayModeBar": False, "staticPlot": True},
               post_script="document.body.style.margin='0';document.body.style.overflow='hidden';")
